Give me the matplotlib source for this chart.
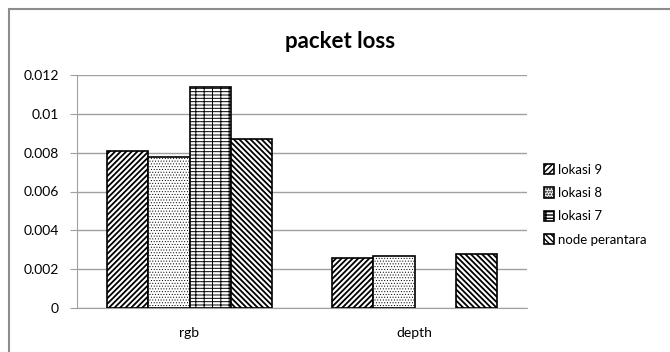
import numpy as np
import matplotlib as mpl
import matplotlib.pyplot as plt
from matplotlib.patches import Rectangle

plt.rcParams['font.family'] = ['Lato', 'DejaVu Sans']

categories = ["rgb", "depth"]
series = ["lokasi 9", "lokasi 8", "lokasi 7", "node perantara"]
lokasi9 = [0.0081, 0.0026]
lokasi8 = [0.0078, 0.0027]
lokasi7 = [0.0114, 0.0]
node_perantara = [0.0087, 0.0028]
values = [lokasi9, lokasi8, lokasi7, node_perantara]
hatches = ["//////", "......", "--+-+", "\\\\\\\\\\\\"]
hatch_lw = [1.3, 0.4, 0.7, 1.3]

fig = plt.figure(figsize=(6.7, 3.52), dpi=100)
fig.patches.append(Rectangle((9 / 670, -0.1), 2, 1 - 9 / 352 + 0.1,
                             transform=fig.transFigure, fill=False,
                             edgecolor="#8c8c8c", linewidth=1.5))
ax = fig.add_axes([77 / 670, 44 / 352, 450 / 670, 233 / 352])

x = np.arange(len(categories))
w = 0.183
for i, (name, vals, h, hl) in enumerate(zip(series, values, hatches, hatch_lw)):
    pos = x + (i - 1.5) * w
    with mpl.rc_context({"hatch.linewidth": hl}):
        bars = ax.bar(pos, vals, w, color="white", edgecolor="black", hatch=h,
                      linewidth=1.2, label=name, zorder=3)
    for b, v in zip(bars, vals):
        if v == 0:
            b.set_visible(False)

ax.set_xlim(-0.5, 1.5)
ax.set_ylim(0, 0.012)
ax.set_yticks(np.arange(0, 0.0121, 0.002))
ax.set_yticklabels(["0", "0.002", "0.004", "0.006", "0.008", "0.01", "0.012"])
ax.set_xticks(x)
ax.set_xticklabels(categories)
ax.yaxis.grid(True, color="#a0a0a0", linewidth=1)
ax.set_axisbelow(True)
for s in ["top", "right"]:
    ax.spines[s].set_visible(False)
for s in ["left", "bottom"]:
    ax.spines[s].set_color("#a0a0a0")
ax.tick_params(axis="y", length=5, color="#a0a0a0", labelsize=10, pad=8)
ax.tick_params(axis="x", length=0, labelsize=10, pad=14)

fig.text(340 / 670, 1 - 42 / 352, "packet loss", ha="center", va="center",
         fontsize=16, fontweight="bold")

fig.legend(loc="upper left", bbox_to_anchor=(532 / 670, 1 - 152 / 352),
           frameon=False, fontsize=9.5, handlelength=0.8, handleheight=0.8,
           handletextpad=0.3, labelspacing=0.85)

fig.savefig("out.png", dpi=100)
